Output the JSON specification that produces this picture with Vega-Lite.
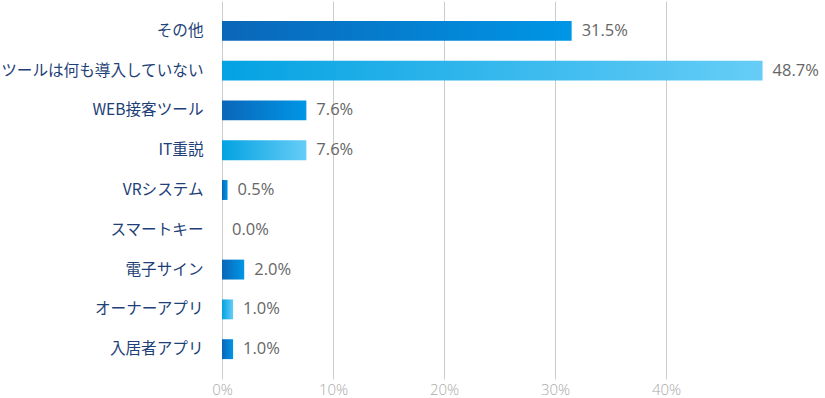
{
  "$schema": "https://vega.github.io/schema/vega-lite/v6.json",
  "width": 555,
  "height": 378,
  "autosize": "none",
  "padding": {"left": 222, "top": 1, "right": 48, "bottom": 19},
  "background": "white",
  "config": {"view": {"stroke": null}},
  "data": {"values": [
    {"item": "その他", "pct": 31.5},
    {"item": "ツールは何も導入していない", "pct": 48.7},
    {"item": "WEB接客ツール", "pct": 7.6},
    {"item": "IT重説", "pct": 7.6},
    {"item": "VRシステム", "pct": 0.5},
    {"item": "スマートキー", "pct": 0.0},
    {"item": "電子サイン", "pct": 2.0},
    {"item": "オーナーアプリ", "pct": 1.0},
    {"item": "入居者アプリ", "pct": 1.0}
  ]},
  "encoding": {
    "y": {"field": "item", "type": "nominal",
      "sort": ["その他", "ツールは何も導入していない", "WEB接客ツール", "IT重説", "VRシステム", "スマートキー", "電子サイン", "オーナーアプリ", "入居者アプリ"],
      "scale": {"paddingInner": 0.5, "paddingOuter": 0.5},
      "axis": {"title": null, "domain": false, "ticks": false, "labelPadding": 19, "labelLimit": 0,
        "labelFont": "Noto Sans CJK JP", "labelFontSize": 15.6, "labelColor": "#1e3f78", "labelFontWeight": "normal"}},
    "x": {"field": "pct", "type": "quantitative",
      "scale": {"domain": [0, 50], "nice": false},
      "axis": {"title": null, "values": [0, 10, 20, 30, 40], "labelExpr": "datum.value + '%'", "labelFlush": false,
        "domain": false, "ticks": false, "grid": true, "gridColor": "#cccccc", "gridWidth": 1,
        "labelColor": "#aaaaaa", "labelFont": "Open Sans", "labelFontSize": 15, "labelPadding": 3, "labelFontWeight": 300}}
  },
  "layer": [
    {
      "transform": [{"filter": {"field": "item", "oneOf": ["その他", "WEB接客ツール", "VRシステム", "スマートキー", "電子サイン", "入居者アプリ"]}}],
      "mark": {"type": "bar", "cornerRadius": 0,
        "color": {"gradient": "linear", "x1": 0, "y1": 0, "x2": 1, "y2": 0,
          "stops": [{"offset": 0, "color": "#0a66b8"}, {"offset": 1, "color": "#0096e6"}]}}
    },
    {
      "transform": [{"filter": {"field": "item", "oneOf": ["ツールは何も導入していない", "IT重説", "オーナーアプリ"]}}],
      "mark": {"type": "bar", "cornerRadius": 0,
        "color": {"gradient": "linear", "x1": 0, "y1": 0, "x2": 1, "y2": 0,
          "stops": [{"offset": 0, "color": "#03a2e2"}, {"offset": 1, "color": "#66cdf7"}]}}
    },
    {
      "mark": {"type": "text", "align": "left", "baseline": "middle", "dx": 10, "font": "Open Sans", "fontSize": 16.5, "color": "#666666",
        "text": {"expr": "format(datum.pct, '.1f') + '%'"}}
    }
  ]
}
